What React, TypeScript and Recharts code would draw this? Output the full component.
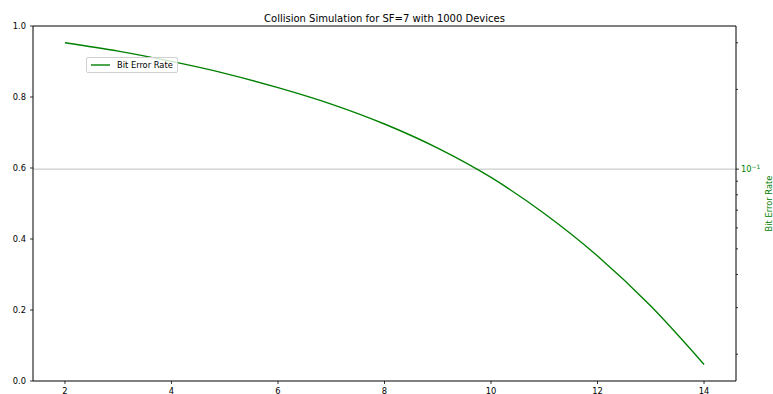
import { LineChart, Line, XAxis, YAxis, ReferenceLine } from "recharts";

// Bit error rate vs x (right axis is log scale)
const xValues = [2, 3, 4, 5, 6, 7, 8, 9, 10, 11, 12, 13, 14];
const berValues = [0.3, 0.279, 0.255, 0.23, 0.203, 0.176, 0.148, 0.12, 0.093, 0.068, 0.047, 0.0304, 0.0183];

const xTicks = [2, 4, 6, 8, 10, 12, 14];
const leftTicks = [0, 0.2, 0.4, 0.6, 0.8, 1.0];
const rightTicks = [0.02, 0.03, 0.04, 0.05, 0.06, 0.07, 0.08, 0.09, 0.1, 0.2, 0.3];

const data = xValues.map((x, i) => ({ x, ber: berValues[i] }));

const W = 773;
const H = 394;
const PLOT_LEFT = 33;
const PLOT_RIGHT = 736;
const PLOT_BOTTOM = 381;
const FONT = "'DejaVu Sans', sans-serif";
const GREEN = "#008000";

const XTick = (props: any) => {
  const { x, payload } = props;
  return (
    <g>
      <line x1={x} x2={x} y1={PLOT_BOTTOM} y2={PLOT_BOTTOM + 3} stroke="#000" strokeWidth={0.8} />
      <text x={x} y={PLOT_BOTTOM + 13} textAnchor="middle" fontSize={8.3} fill="#000" fontFamily={FONT}>
        {payload.value}
      </text>
    </g>
  );
};

const LeftTick = (props: any) => {
  const { y, payload } = props;
  return (
    <g>
      <line x1={PLOT_LEFT - 3} x2={PLOT_LEFT} y1={y} y2={y} stroke="#000" strokeWidth={0.8} />
      <text x={26} y={y + 3} textAnchor="end" fontSize={8.3} fill="#000" fontFamily={FONT}>
        {Number(payload.value).toFixed(1)}
      </text>
    </g>
  );
};

const RightTick = (props: any) => {
  const { y, payload } = props;
  const major = Math.abs(payload.value - 0.1) < 1e-9;
  return (
    <g>
      <line x1={PLOT_RIGHT} x2={PLOT_RIGHT + (major ? 3 : 2)} y1={y} y2={y} stroke="#000" strokeWidth={0.8} />
      {major && (
        <text x={PLOT_RIGHT + 5} y={y + 3} fontSize={8.3} fill={GREEN} fontFamily={FONT}>
          10
          <tspan dy={-3.5} fontSize={6}>
            −1
          </tspan>
        </text>
      )}
    </g>
  );
};

export default function App() {
  return (
    <div style={{ position: "relative", width: W, height: H, background: "#fff" }}>
      <style>{"body{margin:0}"}</style>
      <LineChart width={W} height={H} data={data} margin={{ top: 26, right: 0, bottom: 0, left: 0 }}>
        <XAxis
          dataKey="x"
          type="number"
          domain={[1.4, 14.6]}
          ticks={xTicks}
          interval={0}
          allowDataOverflow
          height={13}
          tickLine={false}
          axisLine={{ stroke: "#000", strokeWidth: 1 }}
          tick={XTick}
        />
        <YAxis
          yAxisId="left"
          type="number"
          domain={[0, 1]}
          ticks={leftTicks}
          interval={0}
          allowDataOverflow
          width={PLOT_LEFT}
          tickLine={false}
          axisLine={{ stroke: "#000", strokeWidth: 1 }}
          tick={LeftTick}
        />
        <YAxis
          yAxisId="right"
          orientation="right"
          type="number"
          scale="log"
          domain={[0.01585, 0.347]}
          ticks={rightTicks}
          interval={0}
          allowDataOverflow
          width={W - PLOT_RIGHT}
          tickLine={false}
          axisLine={{ stroke: "#000", strokeWidth: 1 }}
          tick={RightTick}
        />
        <ReferenceLine yAxisId="right" y={0.1} stroke="#b0b0b0" strokeWidth={0.8} />
        <ReferenceLine yAxisId="left" y={1} stroke="#000" strokeWidth={1} />
        <Line
          yAxisId="right"
          type="monotone"
          dataKey="ber"
          stroke={GREEN}
          strokeWidth={1.4}
          dot={false}
          isAnimationActive={false}
        />
      </LineChart>
      <div
        style={{
          position: "absolute",
          left: 86,
          top: 57,
          display: "flex",
          alignItems: "center",
          border: "1px solid #d0d0d0",
          borderRadius: 2,
          background: "rgba(255,255,255,0.8)",
          padding: "0 4px 0 2px",
          height: 14,
          fontFamily: FONT,
          fontSize: 8.3,
          color: "#000",
          whiteSpace: "nowrap",
        }}
      >
        <svg width={24} height={14}>
          <line x1={2} x2={21} y1={7} y2={7} stroke={GREEN} strokeWidth={1.4} />
        </svg>
        <span style={{ marginLeft: 4 }}>Bit Error Rate</span>
      </div>
      <svg width={W} height={H} style={{ position: "absolute", left: 0, top: 0, pointerEvents: "none" }}>
        <text x={(PLOT_LEFT + PLOT_RIGHT) / 2} y={22} textAnchor="middle" fontSize={10} fill="#000" fontFamily={FONT}>
          Collision Simulation for SF=7 with 1000 Devices
        </text>
        <text
          x={772}
          y={203.5}
          transform="rotate(-90 772 203.5)"
          textAnchor="middle"
          fontSize={8.3}
          fill={GREEN}
          fontFamily={FONT}
        >
          Bit Error Rate
        </text>
      </svg>
    </div>
  );
}
